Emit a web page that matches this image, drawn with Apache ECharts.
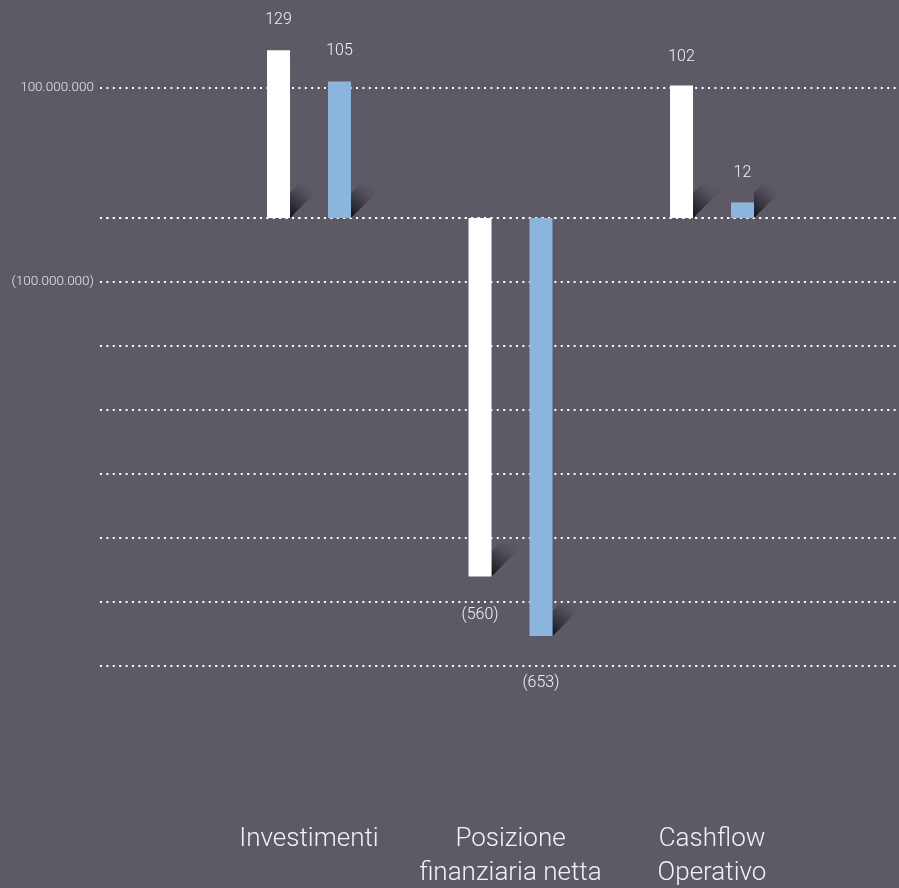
<!DOCTYPE html>
<html>
<head>
<meta charset="utf-8">
<script src="https://cdn.jsdelivr.net/npm/echarts@6/dist/echarts.min.js"></script>
<style>
html,body{margin:0;padding:0;background:#5d5a66;}
#c{width:899px;height:888px;}
</style>
</head>
<body>
<div id="c"></div>
<script>
// ---- data ----
var categories = ['Investimenti', 'Posizione\nfinanziaria netta', 'Cashflow\nOperativo'];
var seriesA = [129000000, -560000000, 102000000];   // white bars
var seriesB = [105000000, -653000000, 12000000];    // blue bars
var upperTicks = [0, 100000000];
var lowerTicks = [-700000000, -600000000, -500000000, -400000000, -300000000, -200000000, -100000000, 0];
var labelDistA = [22, 31, 20];
var labelDistB = [23, 39, 21];

// ---- helpers ----
function fmtDots(n) {
  return String(Math.abs(n)).replace(/\B(?=(\d{3})+(?!\d))/g, '.');
}
function pos(arr) { return arr.map(function (v) { return v > 0 ? v : null; }); }
function neg(arr) { return arr.map(function (v) { return v < 0 ? v : null; }); }
function fmtVal(p) {
  var m = Math.round(Math.abs(p.value) / 1e6);
  return p.value < 0 ? '(' + m + ')' : String(m);
}
function withLabels(arr, dist) {
  return arr.map(function (v, i) {
    if (v === null) return null;
    return { value: v, label: { distance: dist[i] } };
  });
}

var FONT = 'Roboto, "Liberation Sans", sans-serif';
var WHITE = '#ffffff';
var BLUE = '#8cb5dd';
var BAR_W = 23;
var OFFSET = 30.5;

var chart = echarts.init(document.getElementById('c'), null, { renderer: 'canvas' });

var splitStyle = { show: true, lineStyle: { color: '#ffffff', width: 2, type: [2, 4.4] } };

function shadowSeries(arr, xIdx, yIdx, sign) {
  return {
    type: 'custom',
    xAxisIndex: xIdx, yAxisIndex: yIdx,
    z: 1,
    silent: true,
    data: arr.map(function (v, i) { return v === null ? null : [i, v]; }).filter(function (d) { return d; }),
    renderItem: function (params, api) {
      var v = api.value(1);
      var anchor = api.coord([api.value(0), Math.min(v, 0)]);
      var x0 = anchor[0] + sign * OFFSET + BAR_W / 2;
      var y0 = anchor[1];
      var L = 33, w = 25;
      return {
        type: 'polygon',
        shape: { points: [[x0, y0], [x0 + L, y0 - L], [x0 + L - w, y0 - L], [x0, y0 - w]] },
        style: {
          fill: new echarts.graphic.LinearGradient(0, 1, 0.8, 0, [
            { offset: 0, color: 'rgba(15,14,19,1)' },
            { offset: 0.45, color: 'rgba(38,37,45,0.55)' },
            { offset: 1, color: 'rgba(93,90,102,0)' }
          ])
        }
      };
    }
  };
}

var barLabel = {
  show: true,
  color: '#f2f2f2',
  fontSize: 16,
  fontFamily: FONT,
  fontWeight: 300,
  formatter: fmtVal
};

var option = {
  backgroundColor: '#5d5a66',
  animation: false,
  grid: [
    { left: 100, right: 2, top: 88, height: 130, outerBoundsMode: 'none', containLabel: false },      // bg upper
    { left: 100, right: 2, top: 218, height: 448, outerBoundsMode: 'none', containLabel: false },     // bg lower
    { left: 208.25, right: 86.25, top: 88, height: 130, outerBoundsMode: 'none', containLabel: false },  // bars upper
    { left: 208.25, right: 86.25, top: 218, height: 448, outerBoundsMode: 'none', containLabel: false }  // bars lower
  ],
  xAxis: [
    { gridIndex: 0, type: 'value', min: 0, max: 1, show: false },
    { gridIndex: 1, type: 'value', min: 0, max: 1, show: false },
    { gridIndex: 2, type: 'category', data: categories, show: false },
    {
      gridIndex: 3, type: 'category', data: categories, position: 'bottom',
      axisLine: { show: false }, axisTick: { show: false }, splitLine: { show: false },
      axisLabel: {
        color: '#f2f2f2', fontSize: 26, fontFamily: FONT, fontWeight: 300,
        lineHeight: 34, margin: 156, interval: 0
      }
    }
  ],
  yAxis: [
    {
      gridIndex: 0, type: 'value', min: upperTicks[0], max: upperTicks[upperTicks.length - 1], interval: 100000000,
      axisLine: { show: false }, axisTick: { show: false }, splitLine: splitStyle,
      axisLabel: {
        color: '#e6e6e6', fontSize: 13.5, fontFamily: FONT, fontWeight: 300, margin: 6,
        formatter: function (v) { return v === 0 ? '' : fmtDots(v); }
      }
    },
    {
      gridIndex: 1, type: 'value', min: lowerTicks[0], max: lowerTicks[lowerTicks.length - 1], interval: 100000000,
      axisLine: { show: false }, axisTick: { show: false }, splitLine: splitStyle,
      axisLabel: {
        color: '#e6e6e6', fontSize: 13.5, fontFamily: FONT, fontWeight: 300, margin: 6,
        formatter: function (v) { return v === -100000000 ? '(' + fmtDots(v) + ')' : ''; }
      }
    },
    { gridIndex: 2, type: 'value', min: 0, max: 100000000, show: false, splitLine: { show: false } },
    { gridIndex: 3, type: 'value', min: -700000000, max: 0, show: false, splitLine: { show: false } }
  ],
  series: [
    shadowSeries(pos(seriesA), 2, 2, -1),
    shadowSeries(pos(seriesB), 2, 2, 1),
    shadowSeries(neg(seriesA), 3, 3, -1),
    shadowSeries(neg(seriesB), 3, 3, 1),
    {
      type: 'bar', xAxisIndex: 2, yAxisIndex: 2, data: withLabels(pos(seriesA), labelDistA),
      barWidth: BAR_W, barGap: '165%', clip: false, z: 3,
      itemStyle: { color: WHITE }, label: Object.assign({ position: 'top' }, barLabel)
    },
    {
      type: 'bar', xAxisIndex: 2, yAxisIndex: 2, data: withLabels(pos(seriesB), labelDistB),
      barWidth: BAR_W, barGap: '165%', clip: false, z: 3,
      itemStyle: { color: BLUE }, label: Object.assign({ position: 'top' }, barLabel)
    },
    {
      type: 'bar', xAxisIndex: 3, yAxisIndex: 3, data: withLabels(neg(seriesA), labelDistA),
      barWidth: BAR_W, barGap: '165%', clip: false, z: 3,
      itemStyle: { color: WHITE }, label: Object.assign({ position: 'bottom' }, barLabel)
    },
    {
      type: 'bar', xAxisIndex: 3, yAxisIndex: 3, data: withLabels(neg(seriesB), labelDistB),
      barWidth: BAR_W, barGap: '165%', clip: false, z: 3,
      itemStyle: { color: BLUE }, label: Object.assign({ position: 'bottom' }, barLabel)
    }
  ]
};
chart.setOption(option);
</script>
</body>
</html>
